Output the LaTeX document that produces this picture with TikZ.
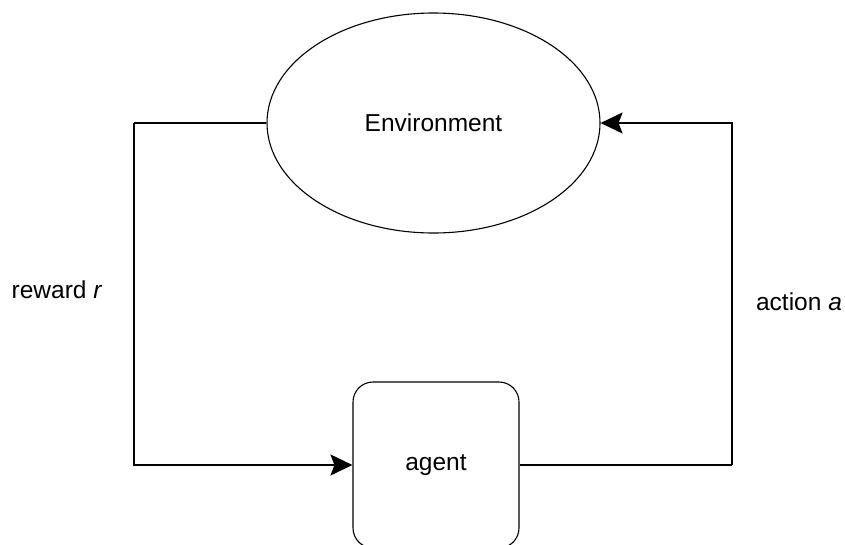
\documentclass[tikz,border=0pt]{standalone}
\usepackage{fontspec}
\setmainfont{Liberation Sans}
\usepackage{tikz}
\usetikzlibrary{shapes.geometric,arrows.meta,positioning}
\tikzstyle{envshape} = [ellipse, minimum width=333pt, minimum height=220pt, inner sep=0pt, draw=black, line width=1.1pt]
\tikzstyle{agentbox} = [rectangle, rounded corners=20pt, minimum width=166pt, minimum height=166pt, inner sep=0pt, draw=black, line width=1.1pt]
\tikzstyle{line} = [line width=2pt]
\tikzstyle{arrow} = [line, -{Stealth[length=22pt, width=21pt, inset=4pt]}]

\begin{document}
\begin{tikzpicture}[x=1pt, y=1pt, font=\fontsize{24.5}{29}\selectfont]
      \useasboundingbox (0,0) rectangle (845,-544);
      %节点
      \node[envshape](env) at (433.5,-123){Environment};
      \node[agentbox](agent) at (436,-465){agent};
      \node(reward) at (57,-290){reward \textit{r}};
      \node(action) at (799,-302){action \textit{a}};
      \coordinate (rl) at (134,-123);
      \coordinate (ra) at (732,-465);
      %连线
      \draw [line] (env.west) -- (rl);
      \draw [arrow] (rl) |- (agent.west);
      \draw [line] (agent.east) -- (ra);
      \draw [arrow] (ra) |- (env.east);
\end{tikzpicture}
\end{document}
